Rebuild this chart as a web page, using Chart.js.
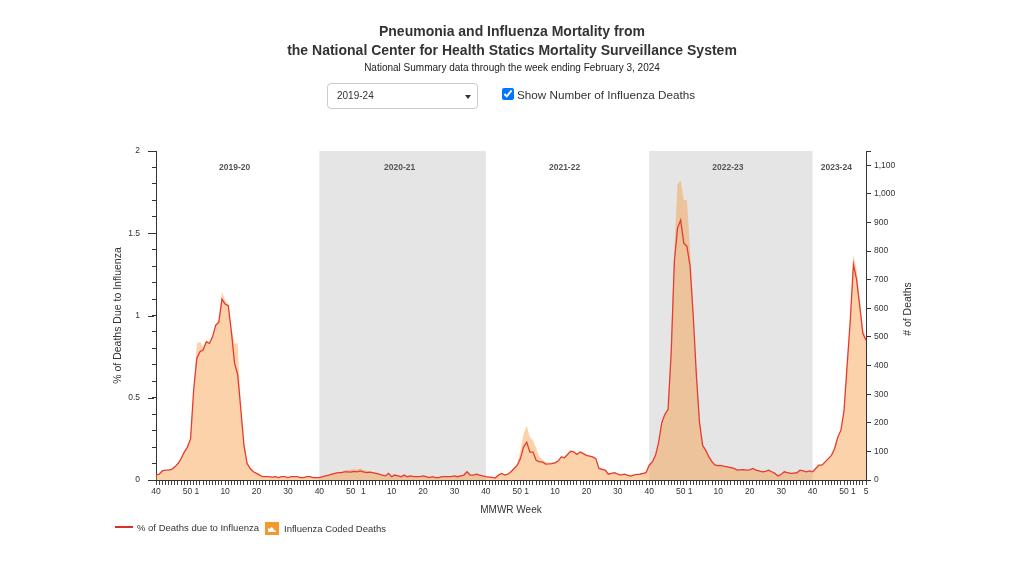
<!DOCTYPE html>
<html>
<head>
<meta charset="utf-8">
<title>Pneumonia and Influenza Mortality</title>
<script src="https://cdn.jsdelivr.net/npm/chart.js@4.4.1/dist/chart.umd.min.js"></script>
<style>
  body { margin: 0; width: 1024px; height: 576px; background: #fff; position: relative; overflow: hidden;
         font-family: "Liberation Sans", Arial, sans-serif; color: #333; }
  #chart { position: absolute; left: 0; top: 0; }
  .line { position: absolute; left: 0; width: 1024px; text-align: center; white-space: nowrap; line-height: 1; }
  .h1 { font-weight: bold; font-size: 14px; color: #333; }
  .sub { font-size: 10px; color: #222; }
  .select { position: absolute; left: 327px; top: 83px; height: 24px; border: 1px solid #ccc;
            border-radius: 4px; font-size: 10px; line-height: 24px; padding-left: 9px; width: 140px; }
  .caret { position: absolute; right: 6px; top: 11px; width: 0; height: 0;
           border-left: 3.5px solid transparent; border-right: 3.5px solid transparent; border-top: 4px solid #333; }
  .check { position: absolute; left: 502px; top: 88px; margin: 0; width: 12px; height: 12px; }
  .checklabel { position: absolute; left: 517px; top: 89px; font-family: "Liberation Sans", Arial, sans-serif;
                font-size: 11.7px; line-height: 1; color: #333; }
  .legend { position: absolute; top: 523px; font-size: 9.5px; line-height: 1; color: #333; white-space: nowrap; }
</style>
</head>
<body>
<canvas id="chart" width="1024" height="576" style="width:1024px;height:576px"></canvas>

<div class="line h1" style="top:24px">Pneumonia and Influenza Mortality from</div>
<div class="line h1" style="top:43px">the National Center for Health Statics Mortality Surveillance System</div>
<div class="line sub" style="top:63px">National Summary data through the week ending February 3, 2024</div>

<div class="select">2019-24<span class="caret"></span></div>
<input class="check" type="checkbox" checked>
<div class="checklabel">Show Number of Influenza Deaths</div>

<div class="legend" style="left:115px">
  <span style="display:inline-block;width:18px;height:2px;background:#d9302c;vertical-align:middle;margin-right:4px;position:relative;top:-1px"></span>% of Deaths due to Influenza
</div>
<div class="legend" style="left:265px">
  <svg width="14" height="13" style="vertical-align:middle;margin-right:5px;position:relative;top:-1px">
    <rect width="14" height="13" fill="#f39a2e"/>
    <path d="M3 10 L3 6 L5 7 L6 5 L8 6 L9 8 L11 9 L11 10 Z" fill="#fff"/>
  </svg>Influenza Coded Deaths
</div>

<script>
// MMWR weeks shown, per calendar year 2019 .. 2024 (2020 has a week 53)
const weekRanges = [[40, 52], [1, 53], [1, 52], [1, 52], [1, 52], [1, 5]];
const seasons = ['2019-20', '2020-21', '2021-22', '2022-23', '2023-24'];
const shadedSeasons = ['2020-21', '2022-23'];
const labeledWeeks = [1, 10, 20, 30, 40, 50];

// % of deaths due to influenza, by season
const pct1920 = [0.03, 0.035, 0.055, 0.06, 0.06, 0.065, 0.08, 0.10, 0.13, 0.17,
  0.20, 0.25, 0.55, 0.74, 0.78, 0.79, 0.84, 0.83, 0.87, 0.94,
  0.96, 1.10, 1.07, 1.06, 0.90, 0.71, 0.64, 0.43, 0.21, 0.10,
  0.07, 0.05, 0.04, 0.03, 0.02, 0.02, 0.02, 0.018, 0.02, 0.015,
  0.02, 0.02, 0.015, 0.02, 0.02, 0.02, 0.015, 0.015, 0.02, 0.02,
  0.015, 0.015];
const pct2021 = [0.015, 0.02, 0.025, 0.03, 0.035, 0.04, 0.045, 0.045, 0.05, 0.05,
  0.048, 0.052, 0.05, 0.055, 0.05, 0.045, 0.048, 0.045, 0.04, 0.035,
  0.03, 0.025, 0.04, 0.02, 0.03, 0.025, 0.02, 0.03, 0.02, 0.025,
  0.02, 0.02, 0.02, 0.025, 0.02, 0.015, 0.02, 0.015, 0.015, 0.02,
  0.02, 0.02, 0.02, 0.025, 0.02, 0.025, 0.03, 0.05, 0.03, 0.03,
  0.035, 0.03, 0.025];
const pct2122 = [0.02, 0.018, 0.016, 0.012, 0.03, 0.04, 0.03, 0.035, 0.05, 0.07,
  0.09, 0.13, 0.20, 0.23, 0.17, 0.17, 0.12, 0.11, 0.11, 0.097,
  0.098, 0.10, 0.104, 0.115, 0.14, 0.135, 0.155, 0.175, 0.17, 0.155,
  0.17, 0.16, 0.15, 0.145, 0.14, 0.13, 0.07, 0.065, 0.06, 0.035,
  0.04, 0.045, 0.035, 0.03, 0.036, 0.03, 0.024, 0.03, 0.034, 0.035,
  0.04, 0.045];
const pct2223 = [0.09, 0.11, 0.15, 0.23, 0.35, 0.40, 0.43, 0.78, 1.33, 1.53,
  1.58, 1.44, 1.42, 1.30, 1.00, 0.64, 0.35, 0.21, 0.18, 0.14,
  0.11, 0.09, 0.088, 0.087, 0.083, 0.08, 0.075, 0.07, 0.06, 0.062,
  0.063, 0.06, 0.062, 0.07, 0.06, 0.055, 0.05, 0.052, 0.06, 0.05,
  0.04, 0.025, 0.035, 0.05, 0.045, 0.04, 0.042, 0.044, 0.06, 0.055,
  0.05, 0.055];
const pct2324 = [0.05, 0.07, 0.09, 0.09, 0.11, 0.13, 0.15, 0.19, 0.26, 0.30,
  0.42, 0.70, 0.97, 1.31, 1.22, 1.06, 0.89, 0.85];

// influenza coded deaths, by season
const deaths1920 = [17, 20, 32, 35, 35, 37, 46, 58, 75, 98,
  115, 144, 316, 477, 483, 466, 489, 483, 506, 546,
  558, 658, 627, 615, 529, 477, 477, 259, 132, 63,
  43, 29, 23, 17, 12, 12, 12, 10, 12, 9,
  12, 12, 9, 12, 12, 12, 9, 9, 12, 12,
  9, 9];
const deaths2021 = [9, 12, 14, 17, 20, 24, 28, 29, 33, 35,
  36, 38, 37, 40, 36, 32, 31, 28, 24, 21,
  18, 15, 22, 12, 17, 14, 12, 17, 12, 14,
  12, 12, 12, 14, 12, 9, 12, 9, 9, 12,
  12, 12, 12, 14, 12, 14, 17, 29, 17, 17,
  20, 17, 14];
const deaths2122 = [12, 11, 10, 8, 18, 24, 18, 21, 30, 42,
  58, 104, 161, 190, 150, 138, 112, 81, 72, 63,
  60, 62, 63, 69, 84, 81, 92, 104, 101, 92,
  101, 95, 89, 86, 83, 77, 43, 40, 36, 22,
  24, 27, 21, 18, 22, 18, 15, 18, 20, 21,
  24, 27];
const deaths2223 = [52, 63, 86, 132, 201, 230, 250, 489, 805, 1035,
  1047, 978, 978, 805, 587, 380, 207, 121, 106, 84,
  66, 54, 52, 51, 49, 47, 44, 41, 36, 37,
  37, 35, 37, 41, 35, 33, 29, 31, 35, 29,
  24, 15, 21, 29, 27, 24, 25, 26, 35, 33,
  29, 33];
const deaths2324 = [30, 40, 52, 54, 63, 75, 86, 115, 144, 167,
  250, 414, 575, 788, 736, 633, 529, 500];

const weeks = [];
weekRanges.forEach(r => {
    for (let w = r[0]; w <= r[1]; w++) weeks.push(w);
});
const pctValues = [].concat(pct1920, pct2021, pct2122, pct2223, pct2324);
const deathValues = [].concat(deaths1920, deaths2021, deaths2122, deaths2223, deaths2324);

const FONT = '"Liberation Sans", Arial, sans-serif';
Chart.defaults.font.family = FONT;
Chart.defaults.color = '#333';

// season bands, season names, right axis title and the longer major ticks
const seasonPlugin = {
    id: 'seasons',
    beforeDatasetsDraw(chart) {
        const { ctx, chartArea, scales } = chart;
        const x = scales.x;
        const starts = [];
        weeks.forEach((w, i) => { if (w === 40) starts.push(i); });
        ctx.save();
        starts.forEach((s, k) => {
            const e = k + 1 < starts.length ? starts[k + 1] : weeks.length - 1;
            const x0 = x.getPixelForValue(s);
            const x1 = x.getPixelForValue(e);
            if (shadedSeasons.includes(seasons[k])) {
                ctx.fillStyle = '#e5e5e5';
                ctx.fillRect(x0, chartArea.top, x1 - x0, chartArea.bottom - chartArea.top);
            }
            ctx.fillStyle = '#555';
            ctx.font = 'bold 8.5px ' + FONT;
            ctx.textAlign = 'center';
            ctx.textBaseline = 'middle';
            ctx.fillText(seasons[k], (x0 + x1) / 2 - 3, chartArea.top + 17);
        });
        ctx.restore();
    },
    afterDraw(chart) {
        const { ctx, chartArea, scales } = chart;
        ctx.save();
        ctx.strokeStyle = '#333';
        ctx.lineWidth = 1;
        ctx.beginPath();
        [0, 0.5, 1, 1.5, 2].forEach(v => {
            const y = Math.round(scales.y.getPixelForValue(v)) + 0.5;
            ctx.moveTo(chartArea.left - 8, y);
            ctx.lineTo(chartArea.left - 2, y);
        });
        ctx.moveTo(chartArea.right, chartArea.top + 0.5);
        ctx.lineTo(chartArea.right + 5, chartArea.top + 0.5);
        ctx.stroke();

        ctx.translate(908, 309);
        ctx.rotate(-Math.PI / 2);
        ctx.fillStyle = '#333';
        ctx.font = '10.5px ' + FONT;
        ctx.textAlign = 'center';
        ctx.textBaseline = 'middle';
        ctx.fillText('# of Deaths', 0, 0);
        ctx.restore();
    }
};

const tickFont = { size: 8.5, family: FONT };

new Chart(document.getElementById('chart'), {
    type: 'line',
    data: {
        labels: weeks,
        datasets: [{
            label: '% of Deaths due to Influenza',
            data: pctValues,
            yAxisID: 'y',
            borderColor: '#e63b2e',
            borderWidth: 1.3,
            pointRadius: 0,
            fill: false,
            tension: 0
        }, {
            label: 'Influenza Coded Deaths',
            data: deathValues,
            yAxisID: 'y2',
            borderWidth: 0,
            backgroundColor: 'rgba(247, 148, 52, 0.42)',
            pointRadius: 0,
            fill: 'origin',
            tension: 0
        }]
    },
    options: {
        responsive: false,
        animation: false,
        events: [],
        layout: { padding: { left: 108, right: 100, top: 151, bottom: 56 } },
        plugins: {
            legend: { display: false },
            tooltip: { enabled: false }
        },
        scales: {
            x: {
                afterFit: s => { s.height = 40; },
                grid: { drawOnChartArea: false, tickLength: 5, color: '#444' },
                border: { color: '#333' },
                ticks: {
                    autoSkip: false, maxRotation: 0, minRotation: 0, padding: 2,
                    font: tickFont, color: '#333',
                    callback: (v, i) => (labeledWeeks.includes(weeks[i]) || i === weeks.length - 1) ? String(weeks[i]) : ''
                },
                title: { display: true, text: 'MMWR Week', font: { size: 10, family: FONT }, color: '#333' }
            },
            y: {
                position: 'left',
                min: 0, max: 2,
                afterFit: s => { s.width = 48; },
                grid: { drawOnChartArea: false, tickLength: 4, color: '#333' },
                border: { color: '#333' },
                ticks: {
                    stepSize: 0.1, autoSkip: false, padding: 12, font: tickFont, color: '#333',
                    callback: v => Math.abs(v * 2 - Math.round(v * 2)) < 1e-6 ? String(Number(v.toFixed(1))) : ''
                },
                title: { display: true, text: '% of Deaths Due to Influenza', font: { size: 10.5, family: FONT }, color: '#333' }
            },
            y2: {
                position: 'right',
                min: 0, max: 1150,
                afterFit: s => { s.width = 58; },
                grid: { drawOnChartArea: false, tickLength: 5, color: '#333' },
                border: { color: '#333' },
                ticks: {
                    stepSize: 100, includeBounds: false, autoSkip: false, padding: 3, font: tickFont, color: '#333',
                    callback: v => v.toLocaleString('en-US')
                }
            }
        }
    },
    plugins: [seasonPlugin]
});
</script>
</body>
</html>
